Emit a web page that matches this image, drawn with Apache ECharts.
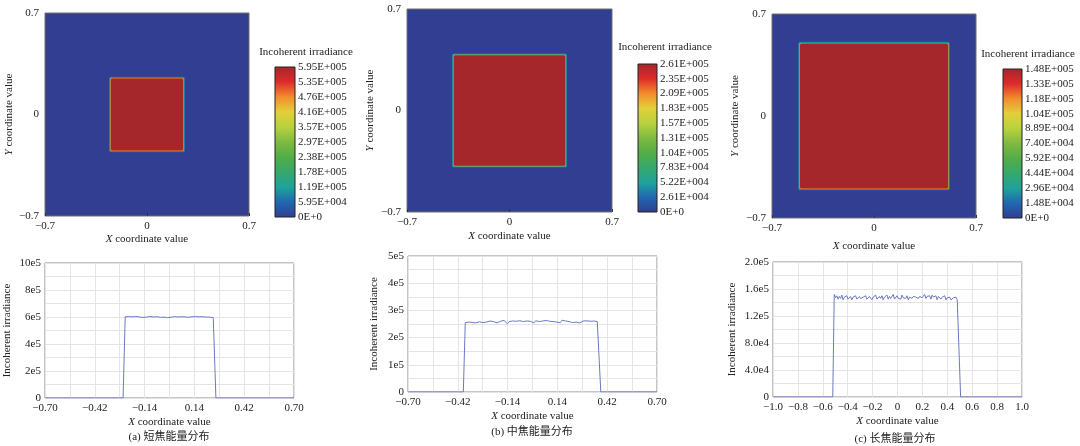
<!DOCTYPE html>
<html>
<head>
<meta charset="utf-8">
<script src="https://cdn.jsdelivr.net/npm/echarts@6/dist/echarts.min.js"></script>
<style>
html, body { margin: 0; padding: 0; background: #fff; }
#main { width: 1080px; height: 446px; }
</style>
</head>
<body>
<div id="main"></div>
<script>
var chart = echarts.init(document.getElementById('main'));
const FONT = '"Liberation Serif", "Noto Sans CJK SC", serif';
const M = '\u2212';

// jet-like colour scale, low -> high
const jetColors = ['#323e91', '#2166b0', '#1ea39c', '#36a86c', '#52ad46', '#7fba40',
                   '#b8d23e', '#e3cf3a', '#f28c2c', '#dd2a2a', '#a5272c'];

// heat maps: [x0, x1, y0, y1, irradiance]
const heatRectsA = [
    [-0.7, 0.7, -0.7, 0.7, 0],
    [-0.260, 0.260, -0.260, 0.260, 71000],
    [-0.256, 0.256, -0.256, 0.256, 140000],
    [-0.252, 0.252, -0.252, 0.252, 480000],
    [-0.248, 0.248, -0.248, 0.248, 594800]
];
const heatRectsB = [
    [-0.7, 0.7, -0.7, 0.7, 0],
    [-0.393, 0.393, -0.393, 0.393, 31000],
    [-0.389, 0.389, -0.389, 0.389, 62000],
    [-0.385, 0.385, -0.385, 0.385, 211000],
    [-0.381, 0.381, -0.381, 0.381, 261000]
];
const heatRectsC = [
    [-0.7, 0.7, -0.7, 0.7, 0],
    [-0.520, 0.520, -0.509, 0.509, 17800],
    [-0.516, 0.516, -0.505, 0.505, 35000],
    [-0.512, 0.512, -0.501, 0.501, 119000],
    [-0.508, 0.508, -0.497, 0.497, 148000]
];
const heatMax = [594800, 261000, 148000];

// colour bar tick labels
const cbarLabelsA = ['0E+0', '5.95E+004', '1.19E+005', '1.78E+005', '2.38E+005', '2.97E+005',
                     '3.57E+005', '4.16E+005', '4.76E+005', '5.35E+005', '5.95E+005'];
const cbarLabelsB = ['0E+0', '2.61E+004', '5.22E+004', '7.83E+004', '1.04E+005', '1.31E+005',
                     '1.57E+005', '1.83E+005', '2.09E+005', '2.35E+005', '2.61E+005'];
const cbarLabelsC = ['0E+0', '1.48E+004', '2.96E+004', '4.44E+004', '5.92E+004', '7.40E+004',
                     '8.89E+004', '1.04E+005', '1.18E+005', '1.33E+005', '1.48E+005'];

// line profiles, plateau values in units of 1e5
const plateauA = [6.02, 5.98, 6.03, 5.97, 6.01, 5.99, 6.04, 5.98, 6.00, 6.03,
                  5.97, 6.02, 5.99, 6.01, 6.04, 5.98, 6.00, 5.97, 6.02, 6.01,
                  5.98, 6.03, 5.99, 6.00, 5.96, 6.02, 5.98, 6.01, 6.03, 5.97,
                  6.00, 5.99, 6.02, 5.97, 6.01, 6.04, 5.98, 6.00, 6.02, 5.97,
                  6.03, 5.99, 6.01, 5.98, 6.02, 5.96, 6.00, 5.98, 5.99, 5.97, 5.95];
const plateauB = [2.55, 2.60, 2.57, 2.62, 2.56, 2.59, 2.54, 2.61, 2.58, 2.63,
                  2.55, 2.60, 2.57, 2.52, 2.61, 2.56, 2.59, 2.62, 2.54, 2.58,
                  2.60, 2.55, 2.63, 2.57, 2.51, 2.59, 2.56, 2.61, 2.54, 2.60,
                  2.58, 2.62, 2.55, 2.59, 2.57, 2.61, 2.56, 2.60, 2.58, 2.54,
                  2.62, 2.57, 2.59, 2.55, 2.61, 2.58, 2.63, 2.56, 2.60, 2.53,
                  2.59, 2.62, 2.57, 2.60, 2.55, 2.64, 2.58, 2.61, 2.56, 2.59,
                  2.62, 2.55, 2.60, 2.57, 2.63, 2.54, 2.59, 2.61, 2.56, 2.62,
                  2.58, 2.60, 2.55, 2.61, 2.57, 2.59, 2.56];
const plateauC = [1.52, 1.47, 1.50, 1.45, 1.49, 1.46, 1.51, 1.44, 1.48, 1.46,
                  1.50, 1.45, 1.47, 1.49, 1.44, 1.48, 1.46, 1.50, 1.45, 1.47,
                  1.49, 1.46, 1.44, 1.48, 1.47, 1.50, 1.45, 1.46, 1.49, 1.47,
                  1.44, 1.48, 1.46, 1.51, 1.45, 1.47, 1.49, 1.46, 1.50, 1.44,
                  1.48, 1.47, 1.51, 1.45, 1.49, 1.46, 1.48, 1.52, 1.45, 1.47,
                  1.50, 1.46, 1.48, 1.45, 1.51, 1.47, 1.49, 1.46, 1.50, 1.44,
                  1.48, 1.47, 1.46, 1.49, 1.47, 1.48, 1.50, 1.46, 1.49, 1.51,
                  1.47, 1.48, 1.52, 1.46, 1.49, 1.47, 1.50, 1.45, 1.51, 1.48,
                  1.46, 1.50, 1.44, 1.49, 1.47, 1.45, 1.48, 1.46, 1.50, 1.44,
                  1.47, 1.45, 1.48, 1.44, 1.46, 1.47, 1.45, 1.48, 1.44, 1.46];
// [axis min, foot left, plateau start, plateau end, foot right, axis max]
const edgesA = [-0.70, -0.261, -0.249, 0.246, 0.261, 0.70];
const edgesB = [-0.70, -0.389, -0.378, 0.374, 0.384, 0.70];
const edgesC = [-1.0, -0.520, -0.508, 0.490, 0.507, 1.0];

// profile axis tick labels
const xLabelsAB = [M + '0.70', M + '0.42', M + '0.14', '0.14', '0.42', '0.70'];
const xLabelsC = [M + '1.0', M + '0.8', M + '0.6', M + '0.4', M + '0.2', '0', '0.2', '0.4', '0.6', '0.8', '1.0'];
const yLabelsA = ['0', '2e5', '4e5', '6e5', '8e5', '10e5'];
const yLabelsB = ['0', '1e5', '2e5', '3e5', '4e5', '5e5'];
const yLabelsC = ['0', '4.0e4', '8.0e4', '1.2e5', '1.6e5', '2.0e5'];
const captions = ['(a) 短焦能量分布', '(b) 中焦能量分布', '(c) 长焦能量分布'];

function profile(edges, plateau) {
    const pts = [[edges[0], 0], [edges[1], 0]];
    const step = (edges[3] - edges[2]) / (plateau.length - 1);
    plateau.forEach((v, i) => pts.push([edges[2] + i * step, v * 1e5]));
    pts.push([edges[4], 0], [edges[5], 0]);
    return pts;
}

const panels = [
    {heat: {left: 45, top: 13, width: 204, height: 203}, hxGap: 18, hyGap: 30,
     cbar: {left: 275, top: 67, width: 20, height: 150}, cbarTitle: [306, 52],
     line: {left: 45, top: 263, width: 249, height: 135}, lxGap: 19, lyGap: 32,
     caption: [169, 437], rects: heatRectsA, cbarLabels: cbarLabelsA,
     data: profile(edgesA, plateauA), xMin: -0.7, xMax: 0.7, xInt: 0.14, xLabels: xLabelsAB, xEvery: 2,
     yMax: 10e5, yInt: 1e5, yLabels: yLabelsA},
    {heat: {left: 407, top: 9, width: 205, height: 203}, hxGap: 19, hyGap: 31,
     cbar: {left: 638, top: 64, width: 19, height: 148}, cbarTitle: [665, 47],
     line: {left: 408, top: 256, width: 249, height: 136}, lxGap: 19, lyGap: 28,
     caption: [532, 432], rects: heatRectsB, cbarLabels: cbarLabelsB,
     data: profile(edgesB, plateauB), xMin: -0.7, xMax: 0.7, xInt: 0.14, xLabels: xLabelsAB, xEvery: 2,
     yMax: 5e5, yInt: 0.5e5, yLabels: yLabelsB},
    {heat: {left: 772, top: 14, width: 204, height: 204}, hxGap: 23, hyGap: 31,
     cbar: {left: 1003, top: 69, width: 19, height: 149}, cbarTitle: [1028, 54],
     line: {left: 773, top: 262, width: 249, height: 135}, lxGap: 19, lyGap: 35,
     caption: [895, 439], rects: heatRectsC, cbarLabels: cbarLabelsC,
     data: profile(edgesC, plateauC), xMin: -1.0, xMax: 1.0, xInt: 0.2, xLabels: xLabelsC, xEvery: 1,
     yMax: 2e5, yInt: 2e4, yLabels: yLabelsC}
];

const txt = {fontFamily: FONT, fontSize: 11, color: '#222'};
const nameStyle = {
    fontFamily: FONT, fontSize: 11, color: '#222',
    rich: {i: {fontFamily: FONT, fontSize: 11, color: '#222', fontStyle: 'italic'}}
};

function renderHeatRect(params, api) {
    const p0 = api.coord([api.value(0), api.value(3)]);
    const p1 = api.coord([api.value(1), api.value(2)]);
    const first = params.dataIndex === 0;
    return {
        type: 'rect',
        shape: {x: p0[0], y: p0[1], width: p1[0] - p0[0], height: p1[1] - p0[1], r: first ? 0 : 1.5},
        style: {fill: api.visual('color'), stroke: first ? '#707070' : null, lineWidth: first ? 1 : 0}
    };
}

function renderColorBar(params, api) {
    const p0 = api.coord([0, 10]);
    const p1 = api.coord([1, 0]);
    return {
        type: 'rect',
        shape: {x: p0[0], y: p0[1], width: p1[0] - p0[0], height: p1[1] - p0[1]},
        style: {
            fill: new echarts.graphic.LinearGradient(0, 1, 0, 0,
                jetColors.map((c, i) => ({offset: i / (jetColors.length - 1), color: c}))),
            stroke: '#222', lineWidth: 1
        }
    };
}

const grid = [], xAxis = [], yAxis = [], series = [], visualMap = [], graphic = [];

panels.forEach((p, k) => {
    // heat map
    let gi = grid.length;
    grid.push(Object.assign({}, p.heat));
    xAxis.push({
        gridIndex: gi, type: 'value', min: -0.7, max: 0.7, interval: 0.7, z: 3,
        axisLine: {show: false, onZero: false}, splitLine: {show: false},
        axisTick: {inside: true, length: 3, lineStyle: {color: '#333'}},
        axisLabel: Object.assign({margin: 5, formatter: v => String(v).replace('-', M)}, txt),
        name: '{i|X} coordinate value', nameLocation: 'middle', nameGap: p.hxGap, nameTextStyle: nameStyle
    });
    yAxis.push({
        gridIndex: gi, type: 'value', min: -0.7, max: 0.7, interval: 0.7, z: 3,
        axisLine: {show: false, onZero: false}, splitLine: {show: false}, axisTick: {show: false},
        axisLabel: Object.assign({margin: 6, formatter: v => String(v).replace('-', M)}, txt),
        name: '{i|Y} coordinate value', nameLocation: 'middle', nameGap: p.hyGap, nameTextStyle: nameStyle
    });
    series.push({
        type: 'custom', xAxisIndex: gi, yAxisIndex: gi, renderItem: renderHeatRect,
        encode: {x: [0, 1], y: [2, 3]}, data: p.rects, silent: true
    });
    visualMap.push({
        show: false, type: 'continuous', seriesIndex: series.length - 1, dimension: 4,
        min: 0, max: heatMax[k], inRange: {color: jetColors}
    });

    // colour bar
    gi = grid.length;
    grid.push(Object.assign({}, p.cbar));
    xAxis.push({gridIndex: gi, type: 'value', min: 0, max: 1, show: false});
    yAxis.push({
        gridIndex: gi, type: 'category', position: 'right', boundaryGap: false, data: p.cbarLabels,
        axisLine: {show: false}, axisTick: {show: false}, splitLine: {show: false},
        axisLabel: Object.assign({interval: 0, margin: 3}, txt)
    });
    series.push({
        type: 'custom', xAxisIndex: gi, yAxisIndex: gi, renderItem: renderColorBar,
        data: [[0, 0]], silent: true
    });
    graphic.push({
        type: 'text', x: p.cbarTitle[0], y: p.cbarTitle[1],
        style: {text: 'Incoherent irradiance', font: '11px ' + FONT, fill: '#222',
                align: 'center', verticalAlign: 'middle'}
    });

    // profile
    gi = grid.length;
    grid.push(Object.assign({show: true, borderColor: '#8a8a8a', borderWidth: 1}, p.line));
    xAxis.push({
        gridIndex: gi, type: 'value', min: p.xMin, max: p.xMax, interval: p.xInt,
        axisLine: {show: false, onZero: false}, axisTick: {show: false},
        splitLine: {lineStyle: {color: '#e4e4e4', width: 1}},
        axisLabel: Object.assign({
            margin: 5,
            formatter: v => {
                const i = Math.round((v - p.xMin) / p.xInt);
                return i % p.xEvery === 0 ? p.xLabels[i / p.xEvery] : '';
            }
        }, txt),
        name: '{i|X} coordinate value', nameLocation: 'middle', nameGap: p.lxGap, nameTextStyle: nameStyle
    });
    yAxis.push({
        gridIndex: gi, type: 'value', min: 0, max: p.yMax, interval: p.yInt,
        axisLine: {show: false, onZero: false}, axisTick: {show: false},
        splitLine: {lineStyle: {color: '#e4e4e4', width: 1}},
        axisLabel: Object.assign({
            margin: 4,
            formatter: v => {
                const i = Math.round(v / p.yInt);
                return i % 2 === 0 ? p.yLabels[i / 2] : '';
            }
        }, txt),
        name: 'Incoherent irradiance', nameLocation: 'middle', nameGap: p.lyGap,
        nameTextStyle: {fontFamily: FONT, fontSize: 11, color: '#222'}
    });
    series.push({
        type: 'line', xAxisIndex: gi, yAxisIndex: gi, data: p.data, showSymbol: false,
        lineStyle: {color: '#6b79c0', width: 1}, itemStyle: {color: '#6b79c0'}, silent: true
    });
    graphic.push({
        type: 'text', x: p.caption[0], y: p.caption[1],
        style: {text: captions[k], font: '11px ' + FONT, fill: '#222',
                align: 'center', verticalAlign: 'middle'}
    });
});

var option = {
    animation: false,
    backgroundColor: '#fff',
    grid: grid,
    xAxis: xAxis,
    yAxis: yAxis,
    visualMap: visualMap,
    series: series,
    graphic: graphic
};
chart.setOption(option);
</script>
</body>
</html>
